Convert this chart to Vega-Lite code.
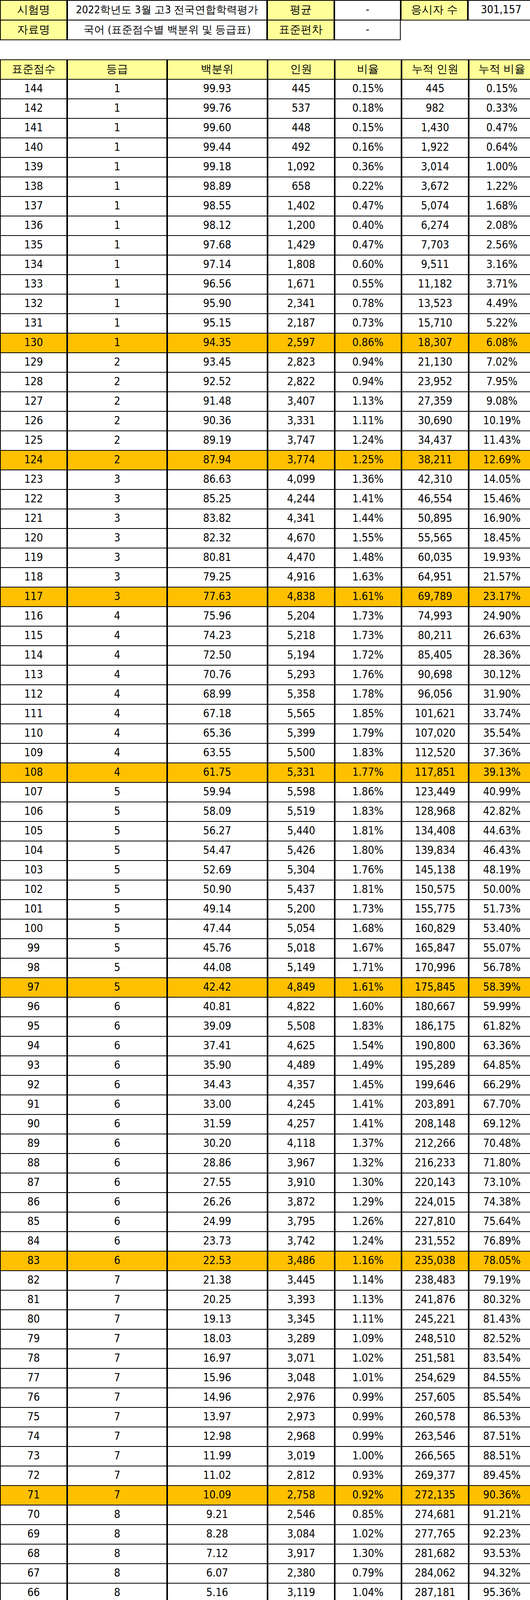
{
  "$schema": "https://vega.github.io/schema/vega-lite/v6.json",
  "padding": 0,
  "background": "white",
  "config": {"view": {"stroke": null}, "concat": {"spacing": 0}, "text": {"font": "DejaVu Sans Condensed, Liberation Sans Narrow, sans-serif", "fontSize": 28, "baseline": "middle", "align": "center", "color": "black"}},
  "datasets": {
    "top": [
      {"row": "1", "a": "시험명", "b": "2022학년도 3월 고3 전국연합학력평가", "c": "평균", "d": "-", "e": "응시자 수", "f": "301,157"},
      {"row": "2", "a": "자료명", "b": "국어 (표준점수별 백분위 및 등급표)", "c": "표준편차", "d": "-"}
    ],
    "tab": [
      {"s":"표준점수","g":"등급","p":"백분위","n":"인원","r":"비율","cn":"누적 인원","cr":"누적 비율","t":"h"},
      {"s":"144","g":"1","p":"99.93","n":"445","r":"0.15%","cn":"445","cr":"0.15%","t":"n"},
      {"s":"142","g":"1","p":"99.76","n":"537","r":"0.18%","cn":"982","cr":"0.33%","t":"n"},
      {"s":"141","g":"1","p":"99.60","n":"448","r":"0.15%","cn":"1,430","cr":"0.47%","t":"n"},
      {"s":"140","g":"1","p":"99.44","n":"492","r":"0.16%","cn":"1,922","cr":"0.64%","t":"n"},
      {"s":"139","g":"1","p":"99.18","n":"1,092","r":"0.36%","cn":"3,014","cr":"1.00%","t":"n"},
      {"s":"138","g":"1","p":"98.89","n":"658","r":"0.22%","cn":"3,672","cr":"1.22%","t":"n"},
      {"s":"137","g":"1","p":"98.55","n":"1,402","r":"0.47%","cn":"5,074","cr":"1.68%","t":"n"},
      {"s":"136","g":"1","p":"98.12","n":"1,200","r":"0.40%","cn":"6,274","cr":"2.08%","t":"n"},
      {"s":"135","g":"1","p":"97.68","n":"1,429","r":"0.47%","cn":"7,703","cr":"2.56%","t":"n"},
      {"s":"134","g":"1","p":"97.14","n":"1,808","r":"0.60%","cn":"9,511","cr":"3.16%","t":"n"},
      {"s":"133","g":"1","p":"96.56","n":"1,671","r":"0.55%","cn":"11,182","cr":"3.71%","t":"n"},
      {"s":"132","g":"1","p":"95.90","n":"2,341","r":"0.78%","cn":"13,523","cr":"4.49%","t":"n"},
      {"s":"131","g":"1","p":"95.15","n":"2,187","r":"0.73%","cn":"15,710","cr":"5.22%","t":"n"},
      {"s":"130","g":"1","p":"94.35","n":"2,597","r":"0.86%","cn":"18,307","cr":"6.08%","t":"b"},
      {"s":"129","g":"2","p":"93.45","n":"2,823","r":"0.94%","cn":"21,130","cr":"7.02%","t":"n"},
      {"s":"128","g":"2","p":"92.52","n":"2,822","r":"0.94%","cn":"23,952","cr":"7.95%","t":"n"},
      {"s":"127","g":"2","p":"91.48","n":"3,407","r":"1.13%","cn":"27,359","cr":"9.08%","t":"n"},
      {"s":"126","g":"2","p":"90.36","n":"3,331","r":"1.11%","cn":"30,690","cr":"10.19%","t":"n"},
      {"s":"125","g":"2","p":"89.19","n":"3,747","r":"1.24%","cn":"34,437","cr":"11.43%","t":"n"},
      {"s":"124","g":"2","p":"87.94","n":"3,774","r":"1.25%","cn":"38,211","cr":"12.69%","t":"b"},
      {"s":"123","g":"3","p":"86.63","n":"4,099","r":"1.36%","cn":"42,310","cr":"14.05%","t":"n"},
      {"s":"122","g":"3","p":"85.25","n":"4,244","r":"1.41%","cn":"46,554","cr":"15.46%","t":"n"},
      {"s":"121","g":"3","p":"83.82","n":"4,341","r":"1.44%","cn":"50,895","cr":"16.90%","t":"n"},
      {"s":"120","g":"3","p":"82.32","n":"4,670","r":"1.55%","cn":"55,565","cr":"18.45%","t":"n"},
      {"s":"119","g":"3","p":"80.81","n":"4,470","r":"1.48%","cn":"60,035","cr":"19.93%","t":"n"},
      {"s":"118","g":"3","p":"79.25","n":"4,916","r":"1.63%","cn":"64,951","cr":"21.57%","t":"n"},
      {"s":"117","g":"3","p":"77.63","n":"4,838","r":"1.61%","cn":"69,789","cr":"23.17%","t":"b"},
      {"s":"116","g":"4","p":"75.96","n":"5,204","r":"1.73%","cn":"74,993","cr":"24.90%","t":"n"},
      {"s":"115","g":"4","p":"74.23","n":"5,218","r":"1.73%","cn":"80,211","cr":"26.63%","t":"n"},
      {"s":"114","g":"4","p":"72.50","n":"5,194","r":"1.72%","cn":"85,405","cr":"28.36%","t":"n"},
      {"s":"113","g":"4","p":"70.76","n":"5,293","r":"1.76%","cn":"90,698","cr":"30.12%","t":"n"},
      {"s":"112","g":"4","p":"68.99","n":"5,358","r":"1.78%","cn":"96,056","cr":"31.90%","t":"n"},
      {"s":"111","g":"4","p":"67.18","n":"5,565","r":"1.85%","cn":"101,621","cr":"33.74%","t":"n"},
      {"s":"110","g":"4","p":"65.36","n":"5,399","r":"1.79%","cn":"107,020","cr":"35.54%","t":"n"},
      {"s":"109","g":"4","p":"63.55","n":"5,500","r":"1.83%","cn":"112,520","cr":"37.36%","t":"n"},
      {"s":"108","g":"4","p":"61.75","n":"5,331","r":"1.77%","cn":"117,851","cr":"39.13%","t":"b"},
      {"s":"107","g":"5","p":"59.94","n":"5,598","r":"1.86%","cn":"123,449","cr":"40.99%","t":"n"},
      {"s":"106","g":"5","p":"58.09","n":"5,519","r":"1.83%","cn":"128,968","cr":"42.82%","t":"n"},
      {"s":"105","g":"5","p":"56.27","n":"5,440","r":"1.81%","cn":"134,408","cr":"44.63%","t":"n"},
      {"s":"104","g":"5","p":"54.47","n":"5,426","r":"1.80%","cn":"139,834","cr":"46.43%","t":"n"},
      {"s":"103","g":"5","p":"52.69","n":"5,304","r":"1.76%","cn":"145,138","cr":"48.19%","t":"n"},
      {"s":"102","g":"5","p":"50.90","n":"5,437","r":"1.81%","cn":"150,575","cr":"50.00%","t":"n"},
      {"s":"101","g":"5","p":"49.14","n":"5,200","r":"1.73%","cn":"155,775","cr":"51.73%","t":"n"},
      {"s":"100","g":"5","p":"47.44","n":"5,054","r":"1.68%","cn":"160,829","cr":"53.40%","t":"n"},
      {"s":"99","g":"5","p":"45.76","n":"5,018","r":"1.67%","cn":"165,847","cr":"55.07%","t":"n"},
      {"s":"98","g":"5","p":"44.08","n":"5,149","r":"1.71%","cn":"170,996","cr":"56.78%","t":"n"},
      {"s":"97","g":"5","p":"42.42","n":"4,849","r":"1.61%","cn":"175,845","cr":"58.39%","t":"b"},
      {"s":"96","g":"6","p":"40.81","n":"4,822","r":"1.60%","cn":"180,667","cr":"59.99%","t":"n"},
      {"s":"95","g":"6","p":"39.09","n":"5,508","r":"1.83%","cn":"186,175","cr":"61.82%","t":"n"},
      {"s":"94","g":"6","p":"37.41","n":"4,625","r":"1.54%","cn":"190,800","cr":"63.36%","t":"n"},
      {"s":"93","g":"6","p":"35.90","n":"4,489","r":"1.49%","cn":"195,289","cr":"64.85%","t":"n"},
      {"s":"92","g":"6","p":"34.43","n":"4,357","r":"1.45%","cn":"199,646","cr":"66.29%","t":"n"},
      {"s":"91","g":"6","p":"33.00","n":"4,245","r":"1.41%","cn":"203,891","cr":"67.70%","t":"n"},
      {"s":"90","g":"6","p":"31.59","n":"4,257","r":"1.41%","cn":"208,148","cr":"69.12%","t":"n"},
      {"s":"89","g":"6","p":"30.20","n":"4,118","r":"1.37%","cn":"212,266","cr":"70.48%","t":"n"},
      {"s":"88","g":"6","p":"28.86","n":"3,967","r":"1.32%","cn":"216,233","cr":"71.80%","t":"n"},
      {"s":"87","g":"6","p":"27.55","n":"3,910","r":"1.30%","cn":"220,143","cr":"73.10%","t":"n"},
      {"s":"86","g":"6","p":"26.26","n":"3,872","r":"1.29%","cn":"224,015","cr":"74.38%","t":"n"},
      {"s":"85","g":"6","p":"24.99","n":"3,795","r":"1.26%","cn":"227,810","cr":"75.64%","t":"n"},
      {"s":"84","g":"6","p":"23.73","n":"3,742","r":"1.24%","cn":"231,552","cr":"76.89%","t":"n"},
      {"s":"83","g":"6","p":"22.53","n":"3,486","r":"1.16%","cn":"235,038","cr":"78.05%","t":"b"},
      {"s":"82","g":"7","p":"21.38","n":"3,445","r":"1.14%","cn":"238,483","cr":"79.19%","t":"n"},
      {"s":"81","g":"7","p":"20.25","n":"3,393","r":"1.13%","cn":"241,876","cr":"80.32%","t":"n"},
      {"s":"80","g":"7","p":"19.13","n":"3,345","r":"1.11%","cn":"245,221","cr":"81.43%","t":"n"},
      {"s":"79","g":"7","p":"18.03","n":"3,289","r":"1.09%","cn":"248,510","cr":"82.52%","t":"n"},
      {"s":"78","g":"7","p":"16.97","n":"3,071","r":"1.02%","cn":"251,581","cr":"83.54%","t":"n"},
      {"s":"77","g":"7","p":"15.96","n":"3,048","r":"1.01%","cn":"254,629","cr":"84.55%","t":"n"},
      {"s":"76","g":"7","p":"14.96","n":"2,976","r":"0.99%","cn":"257,605","cr":"85.54%","t":"n"},
      {"s":"75","g":"7","p":"13.97","n":"2,973","r":"0.99%","cn":"260,578","cr":"86.53%","t":"n"},
      {"s":"74","g":"7","p":"12.98","n":"2,968","r":"0.99%","cn":"263,546","cr":"87.51%","t":"n"},
      {"s":"73","g":"7","p":"11.99","n":"3,019","r":"1.00%","cn":"266,565","cr":"88.51%","t":"n"},
      {"s":"72","g":"7","p":"11.02","n":"2,812","r":"0.93%","cn":"269,377","cr":"89.45%","t":"n"},
      {"s":"71","g":"7","p":"10.09","n":"2,758","r":"0.92%","cn":"272,135","cr":"90.36%","t":"b"},
      {"s":"70","g":"8","p":"9.21","n":"2,546","r":"0.85%","cn":"274,681","cr":"91.21%","t":"n"},
      {"s":"69","g":"8","p":"8.28","n":"3,084","r":"1.02%","cn":"277,765","cr":"92.23%","t":"n"},
      {"s":"68","g":"8","p":"7.12","n":"3,917","r":"1.30%","cn":"281,682","cr":"93.53%","t":"n"},
      {"s":"67","g":"8","p":"6.07","n":"2,380","r":"0.79%","cn":"284,062","cr":"94.32%","t":"n"},
      {"s":"66","g":"8","p":"5.16","n":"3,119","r":"1.04%","cn":"287,181","cr":"95.36%","t":"n"},
      {"s":"65","g":"8","p":"3.96","n":"4,125","r":"1.37%","cn":"291,306","cr":"96.73%","t":"n"},
      {"s":"64","g":"8","p":"2.89","n":"2,294","r":"0.76%","cn":"293,600","cr":"97.49%","t":"b"},
      {"s":"63","g":"9","p":"2.28","n":"1,362","r":"0.45%","cn":"294,962","cr":"97.94%","t":"n"},
      {"s":"62","g":"9","p":"1.85","n":"1,225","r":"0.41%","cn":"296,187","cr":"98.35%","t":"n"},
      {"s":"61","g":"9","p":"1.49","n":"968","r":"0.32%","cn":"297,155","cr":"98.67%","t":"n"},
      {"s":"60","g":"9","p":"1.20","n":"803","r":"0.27%","cn":"297,958","cr":"98.94%","t":"n"},
      {"s":"59","g":"9","p":"0.96","n":"614","r":"0.20%","cn":"298,572","cr":"99.14%","t":"n"},
      {"s":"58","g":"9","p":"0.78","n":"461","r":"0.15%","cn":"299,033","cr":"99.29%","t":"n"},
      {"s":"57","g":"9","p":"0.65","n":"363","r":"0.12%","cn":"299,396","cr":"99.42%","t":"n"},
      {"s":"56","g":"9","p":"0.54","n":"270","r":"0.09%","cn":"299,666","cr":"99.50%","t":"n"},
      {"s":"55","g":"9","p":"0.46","n":"212","r":"0.07%","cn":"299,878","cr":"99.58%","t":"n"},
      {"s":"54","g":"9","p":"0.40","n":"148","r":"0.05%","cn":"300,026","cr":"99.62%","t":"n"},
      {"s":"53","g":"9","p":"0.35","n":"144","r":"0.05%","cn":"300,170","cr":"99.67%","t":"n"},
      {"s":"52","g":"9","p":"0.31","n":"77","r":"0.03%","cn":"300,247","cr":"99.70%","t":"n"},
      {"s":"51","g":"9","p":"0.28","n":"108","r":"0.04%","cn":"300,355","cr":"99.73%","t":"n"},
      {"s":"50","g":"9","p":"0.26","n":"53","r":"0.02%","cn":"300,408","cr":"99.75%","t":"n"},
      {"s":"49","g":"9","p":"0.21","n":"213","r":"0.07%","cn":"300,621","cr":"99.82%","t":"n"},
      {"s":"48","g":"9","p":"0.17","n":"34","r":"0.01%","cn":"300,655","cr":"99.83%","t":"n"},
      {"s":"46","g":"9","p":"0.08","n":"502","r":"0.17%","cn":"301,157","cr":"100.00%","t":"b"}
    ]
  },
  "vconcat": [
    {
      "data": {"name": "top"},
      "spacing": 0,
      "hconcat": [
        {"width": 170, "height": 101, "layer": [
          {"mark": {"type": "rect", "stroke": "black", "strokeWidth": 2, "fill": "#FFFF99"}, "encoding": {"y": {"field": "row", "type": "nominal", "axis": null, "scale": {"domain": ["1","2"], "paddingInner": 0, "paddingOuter": 0}}, "x": {"value": 0}, "x2": {"value": 170}}},
          {"mark": {"type": "text"}, "encoding": {"y": {"field": "row", "type": "nominal", "axis": null, "scale": {"domain": ["1","2"], "paddingInner": 0, "paddingOuter": 0}}, "x": {"value": 85}, "text": {"field": "a"}}}
        ]},
        {"width": 510, "height": 101, "layer": [
          {"mark": {"type": "rect", "stroke": "black", "strokeWidth": 2, "fill": "white"}, "encoding": {"y": {"field": "row", "type": "nominal", "axis": null, "scale": {"domain": ["1","2"], "paddingInner": 0, "paddingOuter": 0}}, "x": {"value": 0}, "x2": {"value": 510}}},
          {"mark": {"type": "text", "fontSize": 27}, "encoding": {"y": {"field": "row", "type": "nominal", "axis": null, "scale": {"domain": ["1","2"], "paddingInner": 0, "paddingOuter": 0}}, "x": {"value": 255}, "text": {"field": "b"}}}
        ]},
        {"width": 170, "height": 101, "layer": [
          {"mark": {"type": "rect", "stroke": "black", "strokeWidth": 2, "fill": "#FFFF99"}, "encoding": {"y": {"field": "row", "type": "nominal", "axis": null, "scale": {"domain": ["1","2"], "paddingInner": 0, "paddingOuter": 0}}, "x": {"value": 0}, "x2": {"value": 170}}},
          {"mark": {"type": "text"}, "encoding": {"y": {"field": "row", "type": "nominal", "axis": null, "scale": {"domain": ["1","2"], "paddingInner": 0, "paddingOuter": 0}}, "x": {"value": 85}, "text": {"field": "c"}}}
        ]},
        {"width": 168, "height": 101, "layer": [
          {"mark": {"type": "rect", "stroke": "black", "strokeWidth": 2, "fill": "white"}, "encoding": {"y": {"field": "row", "type": "nominal", "axis": null, "scale": {"domain": ["1","2"], "paddingInner": 0, "paddingOuter": 0}}, "x": {"value": 0}, "x2": {"value": 168}}},
          {"mark": {"type": "text"}, "encoding": {"y": {"field": "row", "type": "nominal", "axis": null, "scale": {"domain": ["1","2"], "paddingInner": 0, "paddingOuter": 0}}, "x": {"value": 84}, "text": {"field": "d"}}}
        ]},
        {"width": 170, "height": 101, "transform": [{"filter": "datum.e != null"}], "layer": [
          {"mark": {"type": "rect", "stroke": "black", "strokeWidth": 2, "fill": "#FFFF99"}, "encoding": {"y": {"field": "row", "type": "nominal", "axis": null, "scale": {"domain": ["1","2"], "paddingInner": 0, "paddingOuter": 0}}, "x": {"value": 0}, "x2": {"value": 170}}},
          {"mark": {"type": "text"}, "encoding": {"y": {"field": "row", "type": "nominal", "axis": null, "scale": {"domain": ["1","2"], "paddingInner": 0, "paddingOuter": 0}}, "x": {"value": 85}, "text": {"field": "e"}}}
        ]},
        {"width": 169, "height": 101, "transform": [{"filter": "datum.f != null"}], "layer": [
          {"mark": {"type": "rect", "stroke": "black", "strokeWidth": 2, "fill": "white"}, "encoding": {"y": {"field": "row", "type": "nominal", "axis": null, "scale": {"domain": ["1","2"], "paddingInner": 0, "paddingOuter": 0}}, "x": {"value": 0}, "x2": {"value": 169}}},
          {"mark": {"type": "text"}, "encoding": {"y": {"field": "row", "type": "nominal", "axis": null, "scale": {"domain": ["1","2"], "paddingInner": 0, "paddingOuter": 0}}, "x": {"value": 84}, "text": {"field": "f"}}}
        ]}
      ]
    },
    {
      "data": {"name": "tab"},
      "spacing": 0,
      "hconcat": [
        {"width": 170, "height": 4900, "layer": [
          {"mark": {"type": "rect", "stroke": "black", "strokeWidth": 2}, "encoding": {"y": {"field": "s", "type": "nominal", "sort": null, "axis": null, "scale": {"paddingInner": 0, "paddingOuter": 0}}, "x": {"value": 0}, "x2": {"value": 170}, "fill": {"field": "t", "type": "nominal", "legend": null, "scale": {"domain": ["h","b","n"], "range": ["#FFFF99","#FFC000","#FFFFFF"]}}}},
          {"mark": {"type": "text"}, "encoding": {"y": {"field": "s", "type": "nominal", "sort": null, "axis": null, "scale": {"paddingInner": 0, "paddingOuter": 0}}, "x": {"value": 85}, "text": {"field": "s"}}}
        ]},
        {"width": 254, "height": 4900, "layer": [
          {"mark": {"type": "rect", "stroke": "black", "strokeWidth": 2}, "encoding": {"y": {"field": "s", "type": "nominal", "sort": null, "axis": null, "scale": {"paddingInner": 0, "paddingOuter": 0}}, "x": {"value": 0}, "x2": {"value": 254}, "fill": {"field": "t", "type": "nominal", "legend": null, "scale": {"domain": ["h","b","n"], "range": ["#FFFF99","#FFC000","#FFFFFF"]}}}},
          {"mark": {"type": "text"}, "encoding": {"y": {"field": "s", "type": "nominal", "sort": null, "axis": null, "scale": {"paddingInner": 0, "paddingOuter": 0}}, "x": {"value": 127}, "text": {"field": "g"}}}
        ]},
        {"width": 255, "height": 4900, "layer": [
          {"mark": {"type": "rect", "stroke": "black", "strokeWidth": 2}, "encoding": {"y": {"field": "s", "type": "nominal", "sort": null, "axis": null, "scale": {"paddingInner": 0, "paddingOuter": 0}}, "x": {"value": 0}, "x2": {"value": 255}, "fill": {"field": "t", "type": "nominal", "legend": null, "scale": {"domain": ["h","b","n"], "range": ["#FFFF99","#FFC000","#FFFFFF"]}}}},
          {"mark": {"type": "text"}, "encoding": {"y": {"field": "s", "type": "nominal", "sort": null, "axis": null, "scale": {"paddingInner": 0, "paddingOuter": 0}}, "x": {"value": 127}, "text": {"field": "p"}}}
        ]},
        {"width": 170, "height": 4900, "layer": [
          {"mark": {"type": "rect", "stroke": "black", "strokeWidth": 2}, "encoding": {"y": {"field": "s", "type": "nominal", "sort": null, "axis": null, "scale": {"paddingInner": 0, "paddingOuter": 0}}, "x": {"value": 0}, "x2": {"value": 170}, "fill": {"field": "t", "type": "nominal", "legend": null, "scale": {"domain": ["h","b","n"], "range": ["#FFFF99","#FFC000","#FFFFFF"]}}}},
          {"mark": {"type": "text"}, "encoding": {"y": {"field": "s", "type": "nominal", "sort": null, "axis": null, "scale": {"paddingInner": 0, "paddingOuter": 0}}, "x": {"value": 85}, "text": {"field": "n"}}}
        ]},
        {"width": 169, "height": 4900, "layer": [
          {"mark": {"type": "rect", "stroke": "black", "strokeWidth": 2}, "encoding": {"y": {"field": "s", "type": "nominal", "sort": null, "axis": null, "scale": {"paddingInner": 0, "paddingOuter": 0}}, "x": {"value": 0}, "x2": {"value": 169}, "fill": {"field": "t", "type": "nominal", "legend": null, "scale": {"domain": ["h","b","n"], "range": ["#FFFF99","#FFC000","#FFFFFF"]}}}},
          {"mark": {"type": "text"}, "encoding": {"y": {"field": "s", "type": "nominal", "sort": null, "axis": null, "scale": {"paddingInner": 0, "paddingOuter": 0}}, "x": {"value": 84}, "text": {"field": "r"}}}
        ]},
        {"width": 170, "height": 4900, "layer": [
          {"mark": {"type": "rect", "stroke": "black", "strokeWidth": 2}, "encoding": {"y": {"field": "s", "type": "nominal", "sort": null, "axis": null, "scale": {"paddingInner": 0, "paddingOuter": 0}}, "x": {"value": 0}, "x2": {"value": 170}, "fill": {"field": "t", "type": "nominal", "legend": null, "scale": {"domain": ["h","b","n"], "range": ["#FFFF99","#FFC000","#FFFFFF"]}}}},
          {"mark": {"type": "text"}, "encoding": {"y": {"field": "s", "type": "nominal", "sort": null, "axis": null, "scale": {"paddingInner": 0, "paddingOuter": 0}}, "x": {"value": 85}, "text": {"field": "cn"}}}
        ]},
        {"width": 169, "height": 4900, "layer": [
          {"mark": {"type": "rect", "stroke": "black", "strokeWidth": 2}, "encoding": {"y": {"field": "s", "type": "nominal", "sort": null, "axis": null, "scale": {"paddingInner": 0, "paddingOuter": 0}}, "x": {"value": 0}, "x2": {"value": 169}, "fill": {"field": "t", "type": "nominal", "legend": null, "scale": {"domain": ["h","b","n"], "range": ["#FFFF99","#FFC000","#FFFFFF"]}}}},
          {"mark": {"type": "text"}, "encoding": {"y": {"field": "s", "type": "nominal", "sort": null, "axis": null, "scale": {"paddingInner": 0, "paddingOuter": 0}}, "x": {"value": 84}, "text": {"field": "cr"}}}
        ]}
      ]
    }
  ],
  "spacing": 49
}
